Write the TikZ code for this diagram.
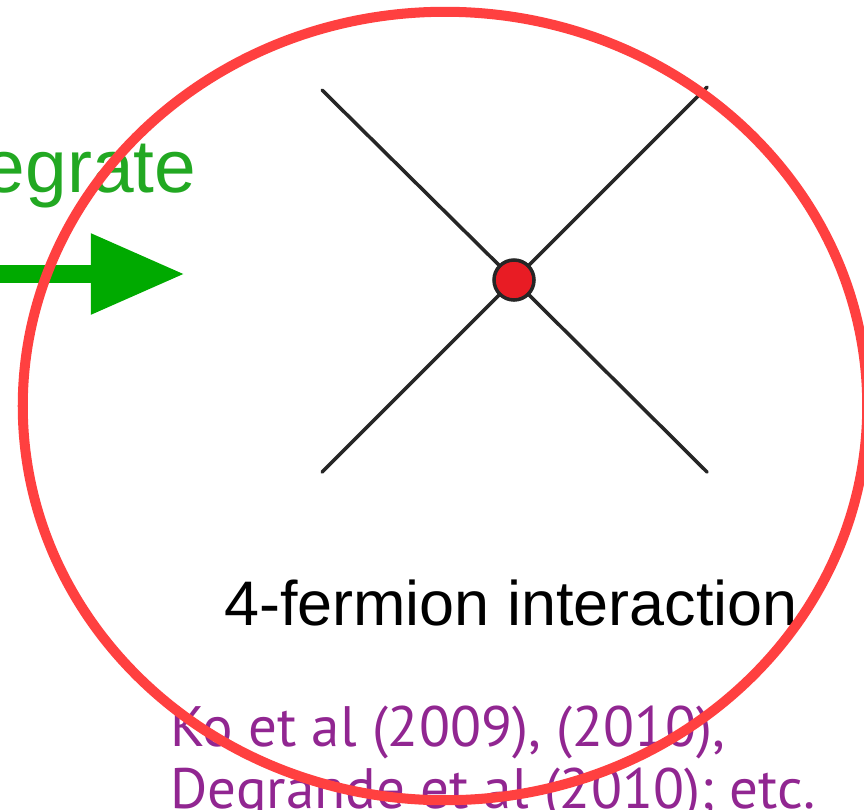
\documentclass[tikz,border=0pt]{standalone}
\usepackage{fontspec}
\usetikzlibrary{arrows.meta, positioning, shapes.geometric}
\newfontfamily\arialfont{Liberation Sans}
\newfontfamily\refsfont{PT Sans}
\definecolor{RingRed}{RGB}{255, 64, 64}
\definecolor{DotRed}{RGB}{232, 28, 36}
\definecolor{ArrowGreen}{RGB}{0, 170, 0}
\definecolor{TextGreen}{RGB}{34, 168, 34}
\definecolor{RefPurple}{RGB}{145, 38, 145}

\begin{document}
\begin{tikzpicture}[
    x=0.01cm, y=-0.01cm,
    >=Stealth,
    leg/.style={draw=black!85, line width=1pt, line cap=round},
    vertexdot/.style={
        circle, draw=black!85, line width=1pt, fill=DotRed,
        minimum size=0.40cm, inner sep=0pt
    },
    labeltext/.style={
        inner sep=0pt, font=\arialfont\fontsize{17.9}{20}\selectfont
    },
    greentext/.style={
        inner sep=0pt, text=TextGreen,
        font=\arialfont\fontsize{21.3}{24}\selectfont
    },
    reftext/.style={
        inner sep=0pt, anchor=base west, text=RefPurple,
        font=\refsfont\fontsize{16.2}{19}\selectfont
    },
    bigarrow/.style={
        draw=ArrowGreen, line width=5.1pt,
        -{Triangle[length=0.94cm, width=0.76cm]}
    },
    ringline/.style={draw=RingRed, line width=2.85pt},
]
\useasboundingbox (0,0) rectangle (864,809);
\clip (0,0) rectangle (864,809);

%% integrate arrow
\node[greentext, anchor=base east] (integ) at (197,192) {egrate};
\coordinate (arrowtail) at (-10,274);
\coordinate (arrowtip) at (185,274);
\draw[bigarrow] (arrowtail) -- (arrowtip);

%% 4-fermion vertex
\node[vertexdot] (vtx) at (514,280) {};
\coordinate (inA) at (322,90);
\coordinate (inB) at (322,472);
\coordinate (outA) at (707,87);
\coordinate (outB) at (707,472);

\draw[leg] (inA) -- (vtx);
\draw[leg] (inB) -- (vtx);
\draw[leg] (outA) -- (vtx);
\draw[leg] (outB) -- (vtx);

\node[labeltext, anchor=base] (caption) at (511,625) {4-fermion interaction};

%% references
\node[reftext] (refone) at (170,746) {Ko et al (2009), (2010),};
\node[reftext] (reftwo) at (170,808) {Degrande et al (2010); etc.};

%% highlight ring
\node[ringline, ellipse, minimum width=8.44cm, minimum height=7.88cm,
      inner sep=0pt] (ring) at (445,406) {};

\end{tikzpicture}
\end{document}
